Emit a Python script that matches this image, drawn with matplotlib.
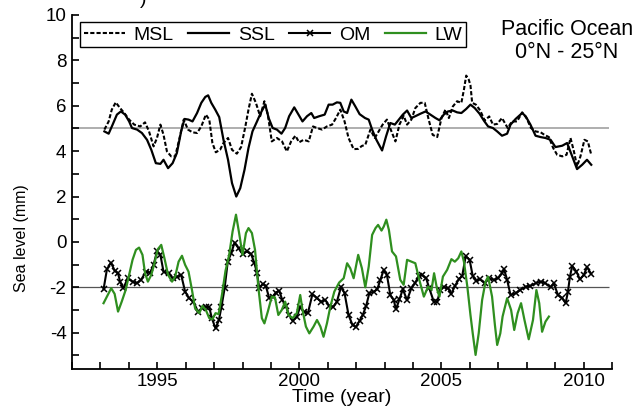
import numpy as np
import matplotlib
matplotlib.use("Agg")
import matplotlib.pyplot as plt
from matplotlib.ticker import MultipleLocator, FixedLocator

plt.rcParams['font.family'] = ['Liberation Sans', 'DejaVu Sans']
plt.rcParams['axes.unicode_minus'] = False

# series (year, mm)
ssl_t = [1993.14, 1993.29, 1993.43, 1993.58, 1993.72, 1993.87, 1994.01, 1994.11, 1994.29, 1994.46,
         1994.64, 1994.79, 1994.95, 1995.11, 1995.22, 1995.38, 1995.54, 1995.69, 1995.84, 1995.96,
         1996.10, 1996.24, 1996.40, 1996.55, 1996.69, 1996.79, 1996.90, 1997.04, 1997.18, 1997.33,
         1997.49, 1997.63, 1997.78, 1997.92, 1998.07, 1998.21, 1998.35, 1998.51, 1998.64, 1998.80,
         1998.92, 1999.06, 1999.21, 1999.37, 1999.50, 1999.64, 1999.82, 1999.97, 2000.11, 2000.27,
         2000.42, 2000.52, 2000.70, 2000.89, 2001.03, 2001.17, 2001.32, 2001.44, 2001.56, 2001.68,
         2001.83, 2001.97, 2002.12, 2002.31, 2002.44, 2002.56, 2002.71, 2002.91, 2003.05, 2003.20,
         2003.36, 2003.50, 2003.64, 2003.79, 2003.94, 2004.08, 2004.26, 2004.44, 2004.61, 2004.79,
         2004.93, 2005.08, 2005.23, 2005.40, 2005.55, 2005.70, 2005.87, 2006.02, 2006.17, 2006.34,
         2006.49, 2006.64, 2006.81, 2006.96, 2007.13, 2007.31, 2007.43, 2007.61, 2007.84, 2007.96,
         2008.13, 2008.31, 2008.49, 2008.66, 2008.84, 2009.01, 2009.25, 2009.42, 2009.60, 2009.77,
         2009.95, 2010.12, 2010.27]
ssl = [4.87, 4.77, 5.17, 5.61, 5.75, 5.61, 5.31, 5.02, 4.95, 4.80,
       4.50, 4.06, 3.47, 3.44, 3.62, 3.25, 3.47, 3.92, 4.87, 5.42,
       5.39, 5.31, 5.68, 6.13, 6.39, 6.46, 6.13, 5.83, 5.50, 4.50,
       3.62, 2.59, 2.00, 2.37, 3.18, 4.14, 4.87, 5.31, 5.68, 6.05,
       5.46, 5.02, 4.95, 4.77, 5.02, 5.54, 5.93, 5.61, 5.31, 5.54,
       5.68, 5.46, 5.54, 5.61, 6.05, 6.05, 6.15, 6.13, 5.75, 5.68,
       6.27, 5.97, 5.63, 5.46, 5.39, 4.95, 4.50, 4.03, 4.65, 5.24,
       5.17, 5.39, 5.61, 5.79, 5.46, 5.54, 5.65, 5.75, 5.61, 5.46,
       5.36, 5.61, 5.75, 5.79, 5.71, 5.68, 5.86, 6.05, 5.90, 5.65,
       5.35, 5.09, 5.02, 4.87, 4.68, 4.77, 5.17, 5.42, 5.68, 5.54,
       5.17, 4.68, 4.62, 4.58, 4.50, 4.18, 4.24, 4.36, 3.77, 3.21,
       3.40, 3.62, 3.40]

msl_t = [1993.14, 1993.29, 1993.40, 1993.54, 1993.69, 1993.84, 1994.01, 1994.19, 1994.40, 1994.57,
         1994.71, 1994.87, 1994.99, 1995.11, 1995.22, 1995.34, 1995.49, 1995.63, 1995.77, 1995.93,
         1996.08, 1996.24, 1996.40, 1996.55, 1996.71, 1996.83, 1996.94, 1997.06, 1997.21, 1997.33,
         1997.49, 1997.63, 1997.80, 1997.95, 1998.10, 1998.21, 1998.33, 1998.47, 1998.62, 1998.77,
         1998.89, 1999.03, 1999.21, 1999.39, 1999.56, 1999.71, 1999.86, 1999.99, 2000.15, 2000.33,
         2000.48, 2000.62, 2000.80, 2000.97, 2001.15, 2001.29, 2001.44, 2001.59, 2001.73, 2001.91,
         2002.07, 2002.20, 2002.32, 2002.50, 2002.65, 2002.79, 2002.93, 2003.08, 2003.24, 2003.38,
         2003.52, 2003.67, 2003.79, 2003.94, 2004.08, 2004.26, 2004.41, 2004.55, 2004.69, 2004.85,
         2005.00, 2005.14, 2005.26, 2005.40, 2005.55, 2005.70, 2005.79, 2005.87, 2005.96, 2006.02,
         2006.08, 2006.21, 2006.36, 2006.52, 2006.68, 2006.81, 2006.96, 2007.13, 2007.33, 2007.48,
         2007.66, 2007.84, 2007.99, 2008.15, 2008.31, 2008.49, 2008.62, 2008.78, 2008.93, 2009.07,
         2009.25, 2009.40, 2009.54, 2009.66, 2009.77, 2009.89, 2010.03, 2010.15, 2010.27]
msl = [4.95, 5.31, 5.83, 6.15, 5.90, 5.68, 5.39, 5.17, 5.09, 5.27,
       4.87, 4.21, 4.58, 5.17, 4.72, 3.99, 3.77, 3.77, 4.50, 5.39,
       4.95, 4.83, 4.80, 5.09, 5.61, 5.39, 4.36, 3.95, 4.06, 4.36,
       4.58, 4.06, 3.89, 4.18, 5.09, 5.83, 6.53, 6.13, 5.54, 6.20,
       5.61, 4.43, 4.58, 4.43, 3.99, 4.43, 4.68, 4.39, 4.50, 4.43,
       5.09, 5.02, 4.95, 5.09, 5.17, 5.46, 5.83, 5.31, 4.58, 4.09,
       4.10, 4.23, 4.28, 4.95, 4.58, 4.87, 5.17, 5.39, 4.87, 4.43,
       5.17, 5.56, 5.17, 5.39, 5.90, 6.13, 6.13, 5.39, 4.72, 4.62,
       5.46, 5.83, 5.46, 5.97, 6.20, 6.13, 6.71, 7.33, 7.15, 6.90,
       6.13, 6.05, 5.80, 5.35, 5.53, 5.17, 5.20, 5.46, 5.02, 5.31,
       5.31, 5.71, 5.46, 5.02, 4.87, 4.83, 4.72, 4.62, 4.14, 3.84,
       3.77, 3.84, 4.58, 3.99, 3.33, 3.77, 4.50, 4.43, 3.84]

om_t = [1993.11, 1993.23, 1993.37, 1993.50, 1993.62, 1993.69, 1993.81, 1993.96, 1994.13, 1994.28,
        1994.43, 1994.60, 1994.75, 1994.87, 1994.99, 1995.11, 1995.22, 1995.40, 1995.54, 1995.69,
        1995.84, 1995.98, 1996.12, 1996.27, 1996.43, 1996.57, 1996.71, 1996.83, 1996.92, 1997.05,
        1997.17, 1997.26, 1997.37, 1997.48, 1997.60, 1997.72, 1997.86, 1998.00, 1998.15, 1998.30,
        1998.42, 1998.51, 1998.59, 1998.71, 1998.82, 1998.94, 1999.06, 1999.17, 1999.29, 1999.40,
        1999.52, 1999.64, 1999.76, 1999.91, 2000.03, 2000.15, 2000.30, 2000.46, 2000.62, 2000.77,
        2000.91, 2001.05, 2001.20, 2001.32, 2001.47, 2001.59, 2001.73, 2001.87, 2001.99, 2002.12,
        2002.23, 2002.35, 2002.46, 2002.62, 2002.74, 2002.85, 2002.97, 2003.08, 2003.20, 2003.32,
        2003.40, 2003.52, 2003.64, 2003.79, 2003.94, 2004.08, 2004.20, 2004.31, 2004.46, 2004.57,
        2004.73, 2004.85, 2004.96, 2005.08, 2005.23, 2005.35, 2005.47, 2005.61, 2005.73, 2005.85,
        2005.99, 2006.10, 2006.22, 2006.36, 2006.52, 2006.66, 2006.84, 2006.99, 2007.13, 2007.20,
        2007.31, 2007.43, 2007.61, 2007.78, 2007.96, 2008.13, 2008.31, 2008.49, 2008.66, 2008.84,
        2008.95, 2009.10, 2009.25, 2009.37, 2009.45, 2009.52, 2009.60, 2009.75, 2009.87, 2010.01,
        2010.12, 2010.27]
om = [-2.09, -1.20, -0.91, -1.26, -1.38, -1.75, -2.04, -1.60, -1.75, -1.82,
      -1.67, -1.31, -1.35, -1.01, -0.42, -0.57, -1.31, -1.38, -1.60, -1.53,
      -1.45, -2.19, -2.48, -2.63, -3.07, -2.92, -2.85, -2.88, -3.36, -3.81,
      -3.44, -2.85, -2.04, -0.87, -0.50, -0.03, -0.28, -0.53, -0.42, -0.53,
      -0.94, -1.38, -2.04, -1.85, -1.94, -2.48, -2.41, -2.23, -2.15, -2.56,
      -2.82, -3.22, -3.47, -3.29, -2.85, -3.07, -3.14, -2.30, -2.48, -2.63,
      -2.56, -2.82, -2.85, -2.63, -1.97, -2.26, -3.22, -3.66, -3.75, -3.47,
      -3.22, -2.82, -2.26, -2.19, -2.09, -1.67, -1.23, -1.45, -2.34, -2.56,
      -2.97, -2.53, -2.09, -2.56, -2.04, -1.79, -1.50, -1.45, -1.60, -2.04,
      -2.63, -2.63, -2.11, -1.99, -2.04, -2.29, -1.94, -1.65, -1.50, -0.64,
      -0.79, -1.50, -1.70, -1.65, -1.82, -1.60, -1.67, -1.60, -1.38, -1.20,
      -1.67, -2.34, -2.26, -2.11, -1.97, -1.94, -1.82, -1.75, -1.82, -2.00,
      -1.82, -2.34, -2.48, -2.70, -2.19, -1.53, -1.06, -1.31, -1.65, -1.45,
      -1.11, -1.41]

lw_t = [1993.11, 1993.23, 1993.38, 1993.50, 1993.62, 1993.75, 1993.89, 1994.01, 1994.13, 1994.25,
        1994.36, 1994.48, 1994.57, 1994.67, 1994.79, 1994.90, 1995.02, 1995.14, 1995.26, 1995.38,
        1995.52, 1995.63, 1995.75, 1995.87, 1995.98, 1996.10, 1996.22, 1996.33, 1996.48, 1996.59,
        1996.71, 1996.83, 1996.94, 1997.05, 1997.16, 1997.28, 1997.40, 1997.53, 1997.65, 1997.77,
        1997.88, 1998.00, 1998.12, 1998.21, 1998.33, 1998.44, 1998.56, 1998.68, 1998.77, 1998.89,
        1999.03, 1999.14, 1999.26, 1999.38, 1999.50, 1999.62, 1999.76, 1999.91, 2000.03, 2000.11,
        2000.23, 2000.35, 2000.50, 2000.62, 2000.74, 2000.85, 2000.97, 2001.09, 2001.23, 2001.40,
        2001.56, 2001.68, 2001.79, 2001.91, 2002.07, 2002.20, 2002.32, 2002.44, 2002.56, 2002.68,
        2002.77, 2002.89, 2002.97, 2003.06, 2003.15, 2003.26, 2003.40, 2003.55, 2003.67, 2003.79,
        2003.94, 2004.08, 2004.22, 2004.38, 2004.53, 2004.65, 2004.74, 2004.85, 2004.93, 2005.05,
        2005.20, 2005.35, 2005.47, 2005.59, 2005.70, 2005.79, 2005.91, 2006.02, 2006.10, 2006.20,
        2006.31, 2006.43, 2006.55, 2006.64, 2006.78, 2006.88, 2006.96, 2007.07, 2007.15, 2007.31,
        2007.45, 2007.56, 2007.68, 2007.80, 2007.92, 2008.07, 2008.22, 2008.34, 2008.44, 2008.54,
        2008.66, 2008.78]
lw = [-2.70, -2.41, -2.04, -2.29, -3.07, -2.63, -2.11, -1.45, -0.79, -0.35,
      -0.25, -0.57, -1.38, -1.75, -1.45, -0.94, -0.32, -0.13, -0.76, -1.45,
      -1.75, -1.53, -0.87, -0.61, -1.01, -1.31, -2.11, -2.92, -3.14, -2.82,
      -3.00, -3.36, -3.41, -3.14, -3.18, -2.30, -1.28, -0.57, 0.46, 1.20,
      0.39, -0.57, 0.39, 0.61, 0.39, -0.35, -2.04, -3.36, -3.59, -3.07,
      -2.41, -2.44, -3.22, -3.00, -2.63, -3.22, -3.36, -3.14, -2.34, -3.00,
      -3.73, -4.03, -3.73, -3.44, -3.73, -4.18, -3.59, -2.85, -2.19, -1.79,
      -1.60, -0.94, -1.16, -1.60, -0.57, -1.16, -2.00, -1.09, 0.31, 0.61,
      0.75, 0.50, 0.68, 0.98, 0.53, -0.42, -0.64, -1.67, -1.89, -0.79,
      -0.87, -0.94, -1.67, -2.41, -1.97, -2.11, -1.38, -2.11, -2.41, -1.53,
      -1.23, -0.76, -0.87, -0.72, -0.42, -0.87, -1.97, -3.22, -4.03, -4.98,
      -4.03, -2.56, -1.75, -1.53, -2.41, -3.66, -4.54, -4.03, -3.29, -2.48,
      -3.00, -3.88, -3.14, -2.70, -3.44, -4.29, -3.44, -2.12, -2.70, -3.96,
      -3.51, -3.29]

ref_lines = [5, -2]
lw_green = '#2f8f1f'

fig = plt.figure(figsize=(6.42, 4.09), dpi=100)
ax = fig.add_axes([72/642, 1-369/409, 540/642, 354/409])

ax.hlines(ref_lines[0], 1992, 2010.88, color='#a8a8a8', lw=1.3, zorder=1)
ax.hlines(ref_lines[1], 1992, 2010.88, color='#555555', lw=0.9, zorder=1)

ax.plot(msl_t, msl, color='black', ls=(0, (2.0, 1.0)), lw=1.5, label='MSL')
ax.plot(ssl_t, ssl, color='black', lw=1.6, label='SSL')
ax.plot(om_t, om, color='black', lw=1.5, marker='x', ms=4, mew=1.1, label='OM')
ax.plot(lw_t, lw, color=lw_green, lw=1.6, label='LW')

ax.set_xlim(1992, 2011)
ax.set_ylim(-5.6, 10)
for s in ['top', 'right']:
    ax.spines[s].set_visible(False)
ax.spines['left'].set_linewidth(1.3)
ax.spines['bottom'].set_linewidth(1.3)

ax.xaxis.set_major_locator(FixedLocator([1995, 2000, 2005, 2010]))
ax.xaxis.set_minor_locator(MultipleLocator(1))
ax.yaxis.set_major_locator(MultipleLocator(2))
ax.yaxis.set_minor_locator(MultipleLocator(1))
ax.tick_params(which='both', direction='in', length=5, width=1.2, labelsize=13.5)
ax.tick_params(axis='x', pad=3)
ax.tick_params(axis='y', pad=4)

ax.set_xlabel('Time (year)', fontsize=14, labelpad=-1)
ax.set_ylabel('Sea level (mm)', fontsize=11.5)
ax.yaxis.set_label_coords(-0.08, 0.37)

fig.text(567/642, 1-41/409, 'Pacific Ocean\n0°N - 25°N', ha='center', va='center',
         fontsize=15.5, linespacing=1.1)
fig.text(143/642, 1.0, ')', ha='center', va='center', fontsize=14)

leg = ax.legend(ncol=4, loc='upper left', bbox_to_anchor=(80/642, 1-22/409),
                bbox_transform=fig.transFigure, fontsize=14, frameon=True, fancybox=False,
                edgecolor='black', framealpha=1, borderaxespad=0, handlelength=2.1,
                handletextpad=0.45, columnspacing=0.75, borderpad=0.2, numpoints=1)
leg.get_frame().set_linewidth(1.0)

fig.savefig('out.png', dpi=100)
